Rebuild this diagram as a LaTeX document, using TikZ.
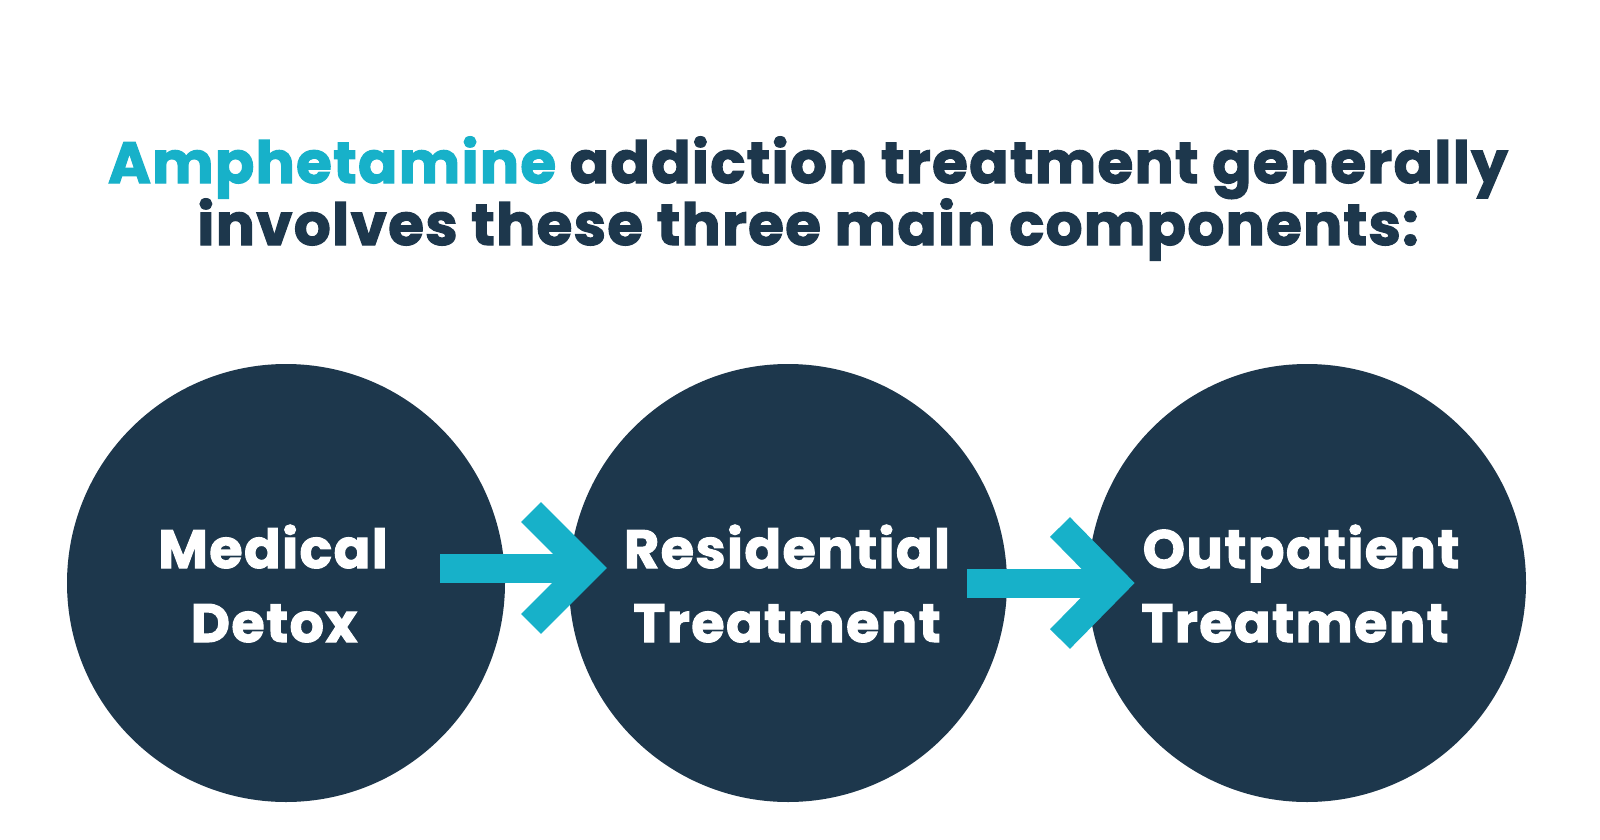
\documentclass[tikz,border=0pt]{standalone}
\usepackage{fontspec}
\setmainfont{Poppins}
\newfontfamily\titlefont[FakeBold=2.0,LetterSpace=2.3]{Poppins Bold}
\newfontfamily\discfont[FakeBold=2.0,LetterSpace=2.7]{Poppins Bold}
\definecolor{navy}{HTML}{1D374C}
\definecolor{aqua}{HTML}{17B1C9}
\begin{document}
\begin{tikzpicture}[x=1pt,y=-1pt,
  disc/.style={circle,fill=navy,draw=none,minimum size=438pt,inner sep=0pt},
  ctext/.style={anchor=base,text=white,font=\fontsize{54}{60}\discfont},
  ttext/.style={anchor=base,text=navy,font=\fontsize{58}{66}\titlefont},
  shaft/.style={draw=aqua,line width=29pt,line cap=butt},
  chev/.style={draw=aqua,line width=28pt,line join=miter,line cap=butt}]
\fill[white] (0,0) rectangle (1600,840);
\useasboundingbox (0,0) rectangle (1600,840);
% title
\node[ttext] (t1) at (808,183) {\textcolor{aqua}{Amphetamine} addiction treatment generally};
\node[ttext] (t2) at (808,245) {involves these three main components:};
% circles
\node[disc] (c1) at (286,583) {};
\node[disc] (c2) at (788,583) {};
\node[disc] (c3) at (1307,583) {};
% arrow 1
\coordinate (a1s) at (440,568);
\coordinate (a1e) at (580,568);
\coordinate (a1u) at (531,512);
\coordinate (a1t) at (587,568);
\coordinate (a1l) at (531,624);
\draw[shaft] (a1s) -- (a1e);
\draw[chev] (a1u) -- (a1t) -- (a1l);
% arrow 2
\coordinate (a2s) at (967,583);
\coordinate (a2e) at (1107,583);
\coordinate (a2u) at (1060,527);
\coordinate (a2t) at (1115,583);
\coordinate (a2l) at (1060,639);
\draw[shaft] (a2s) -- (a2e);
\draw[chev] (a2u) -- (a2t) -- (a2l);
% circle texts
\node[ctext] (m1) at (273,568) {Medical};
\node[ctext] (m2) at (274,642) {Detox};
\node[ctext] (r1) at (787,568) {Residential};
\node[ctext] (r2) at (787,642) {Treatment};
\node[ctext] (o1) at (1301,568) {Outpatient};
\node[ctext] (o2) at (1295,642) {Treatment};
\end{tikzpicture}
\end{document}
